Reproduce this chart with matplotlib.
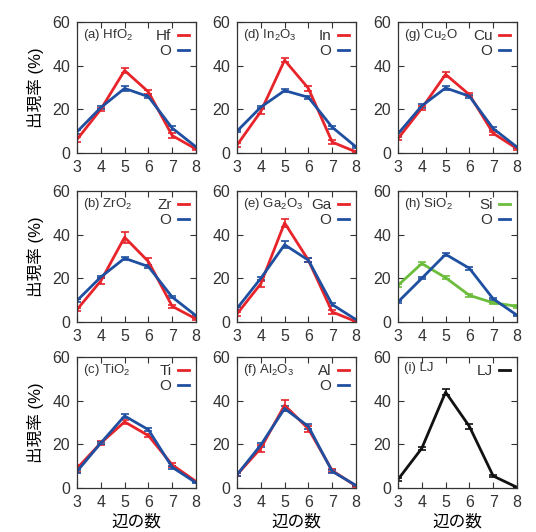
import matplotlib
matplotlib.use('Agg')
import matplotlib.pyplot as plt
from matplotlib.lines import Line2D

plt.rcParams['font.family'] = ['Liberation Sans', 'Noto Sans CJK JP']
plt.rcParams['mathtext.fontset'] = 'custom'
plt.rcParams['mathtext.rm'] = 'Liberation Sans'
plt.rcParams['mathtext.it'] = 'Liberation Sans'
plt.rcParams['text.color'] = '#333333'
plt.rcParams['axes.edgecolor'] = '#333333'
plt.rcParams['xtick.color'] = '#333333'
plt.rcParams['ytick.color'] = '#333333'

# nombre d'arêtes
x = [3, 4, 5, 6, 7, 8]

# (a) HfO2
hf = [6.2, 20.0, 37.8, 28.0, 8.0, 1.8]
hf_err = [1.0, 0.8, 1.0, 1.0, 1.0, 0.5]
hf_o = [9.7, 20.8, 29.6, 25.8, 11.4, 2.8]
hf_o_err = [0.8, 0.8, 1.0, 0.8, 0.8, 0.5]

# (d) In2O3
in_ = [3.6, 19.0, 42.5, 29.6, 5.0, 0.5]
in_err = [1.0, 1.0, 1.0, 1.2, 1.0, 0.3]
in_o = [10.0, 21.0, 28.6, 25.5, 11.8, 2.8]
in_o_err = [0.6, 0.6, 0.6, 0.6, 0.6, 0.4]

# (g) Cu2O
cu = [6.6, 20.5, 36.0, 26.7, 9.0, 2.0]
cu_err = [0.8, 0.8, 1.0, 0.8, 0.8, 0.4]
cu_o = [8.8, 21.6, 29.8, 26.0, 11.2, 2.7]
cu_o_err = [1.2, 0.8, 0.8, 0.6, 0.8, 0.4]

# (b) ZrO2
zr = [5.7, 18.8, 38.8, 27.7, 7.2, 1.4]
zr_err = [0.8, 1.5, 2.5, 1.5, 0.8, 0.4]
zr_o = [9.8, 20.6, 29.2, 25.4, 11.4, 2.9]
zr_o_err = [0.6, 0.6, 0.8, 0.6, 0.6, 0.4]

# (e) Ga2O3
ga = [3.7, 17.5, 45.4, 28.3, 4.6, 0.2]
ga_err = [0.8, 1.5, 2.0, 1.0, 0.8, 0.2]
ga_o = [6.2, 20.0, 35.4, 28.3, 8.0, 1.1]
ga_o_err = [0.8, 0.8, 1.5, 1.0, 0.8, 0.3]

# (h) SiO2
si = [16.8, 26.8, 20.3, 12.2, 8.8, 7.2]
si_err = [0.8, 0.6, 0.6, 0.6, 0.6, 0.6]
si_o = [9.2, 20.0, 31.0, 24.6, 10.6, 3.1]
si_o_err = [0.4, 0.4, 0.8, 0.6, 0.5, 0.3]

# (c) TiO2
ti = [9.0, 20.6, 30.3, 24.0, 10.6, 3.0]
ti_err = [1.5, 0.8, 0.8, 0.8, 0.8, 0.4]
ti_o = [7.6, 20.6, 33.0, 26.7, 9.5, 2.4]
ti_o_err = [0.6, 0.6, 1.0, 0.8, 0.6, 0.3]

# (f) Al2O3
al = [6.1, 18.2, 37.9, 27.1, 8.0, 0.9]
al_err = [0.8, 1.5, 2.5, 1.5, 0.6, 0.3]
al_o = [6.1, 19.7, 36.4, 28.2, 7.6, 1.2]
al_o_err = [0.6, 0.8, 1.0, 1.0, 0.6, 0.3]

# (i) LJ
lj = [3.9, 18.2, 43.9, 28.2, 5.5, 0.3]
lj_err = [0.5, 0.8, 1.5, 1.0, 0.6, 0.2]

ROUGE = '#e8242b'
BLEU = '#1f4fa0'
VERT = '#6cbd3c'
NOIR = '#111111'

# (titre, [(étiquette, valeurs, erreurs, couleur), ...], colonne, ligne)
panneaux = [
    ('(a) HfO$_2$', [('Hf', hf, hf_err, ROUGE), ('O', hf_o, hf_o_err, BLEU)], 0, 0),
    ('(d) In$_2$O$_3$', [('In', in_, in_err, ROUGE), ('O', in_o, in_o_err, BLEU)], 1, 0),
    ('(g) Cu$_2$O', [('Cu', cu, cu_err, ROUGE), ('O', cu_o, cu_o_err, BLEU)], 2, 0),
    ('(b) ZrO$_2$', [('Zr', zr, zr_err, ROUGE), ('O', zr_o, zr_o_err, BLEU)], 0, 1),
    ('(e) Ga$_2$O$_3$', [('Ga', ga, ga_err, ROUGE), ('O', ga_o, ga_o_err, BLEU)], 1, 1),
    ('(h) SiO$_2$', [('Si', si, si_err, VERT), ('O', si_o, si_o_err, BLEU)], 2, 1),
    ('(c) TiO$_2$', [('Ti', ti, ti_err, ROUGE), ('O', ti_o, ti_o_err, BLEU)], 0, 2),
    ('(f) Al$_2$O$_3$', [('Al', al, al_err, ROUGE), ('O', al_o, al_o_err, BLEU)], 1, 2),
    ('(i) LJ', [('LJ', lj, lj_err, NOIR)], 2, 2),
]

W, H = 536, 532
fig = plt.figure(figsize=(W / 100, H / 100), dpi=100)

gauches = [77, 237, 398]
hauts = [22, 191, 357]
larg, haut = 119, 131

for titre, series, col, lig in panneaux:
    g = gauches[col]
    t = hauts[lig]
    ax = fig.add_axes([g / W, 1 - (t + haut) / H, larg / W, haut / H])
    poignees = []
    for etiq, vals, errs, coul in series:
        ax.errorbar(x, vals, yerr=errs, color=coul, lw=2, capsize=3,
                    elinewidth=1.2, capthick=1.2)
        poignees.append(Line2D([], [], color=coul, lw=2))
    ax.set_xlim(3, 8)
    ax.set_ylim(0, 60)
    ax.set_xticks(x)
    ax.set_yticks([0, 20, 40, 60])
    ax.tick_params(direction='in', top=True, right=True, labelsize=11.5,
                   length=4, width=0.8, pad=5)
    for s in ax.spines.values():
        s.set_linewidth(0.9)
    ax.text(0.05, 0.965, titre, transform=ax.transAxes, ha='left', va='top',
            fontsize=9.5)
    ax.legend(poignees, [s[0] for s in series], loc='upper right',
              frameon=False, markerfirst=False, handlelength=0.75,
              handletextpad=0.4, labelspacing=0.1, fontsize=11,
              borderaxespad=0.25, borderpad=0.2)
    if col == 0:
        ax.set_ylabel('出現率 (%)', fontsize=12, labelpad=6)
    if lig == 2:
        ax.set_xlabel('辺の数', fontsize=12, labelpad=3)

fig.savefig('out.png', dpi=100)
